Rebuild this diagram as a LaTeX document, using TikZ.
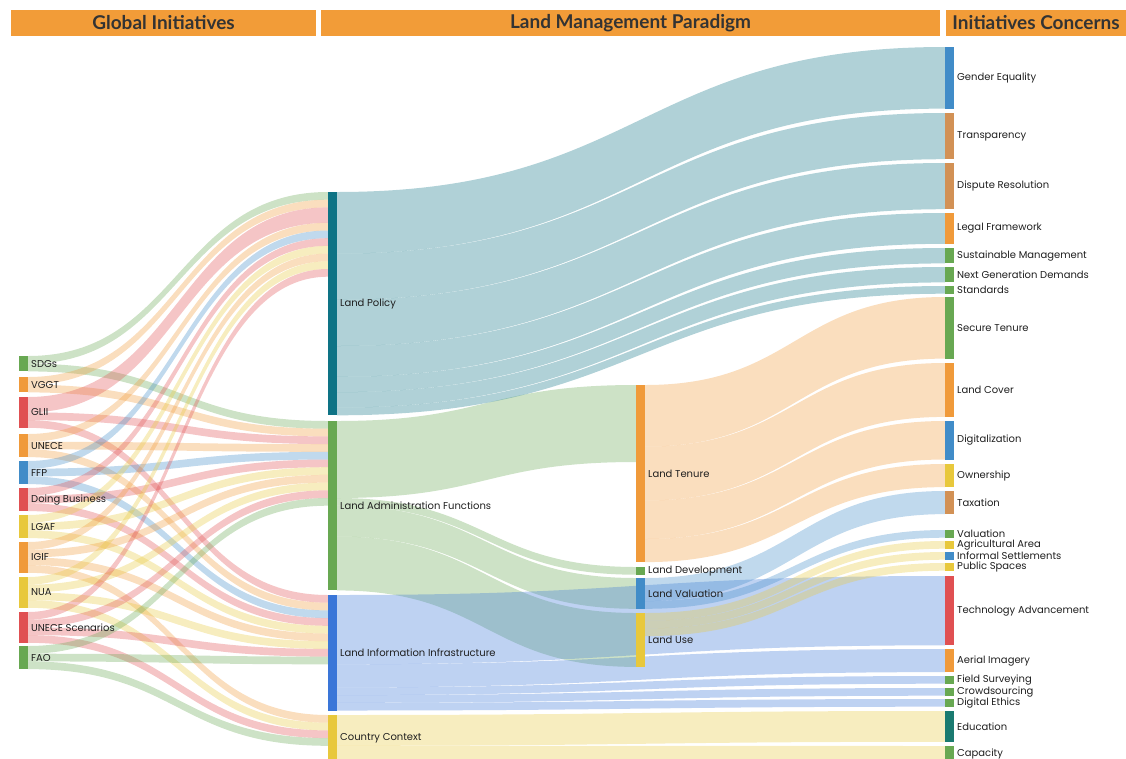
\documentclass[tikz,border=0pt]{standalone}
\usepackage{fontspec}
\setmainfont{Poppins}
\newfontfamily\headfont{Lato}
\usetikzlibrary{positioning,calc,backgrounds}

\definecolor{cgreen}{RGB}{104,168,82}
\definecolor{corange}{RGB}{240,154,58}
\definecolor{cred}{RGB}{224,80,82}
\definecolor{cblue}{RGB}{65,140,200}
\definecolor{cyellow}{RGB}{232,200,60}
\definecolor{cteal}{RGB}{14,115,133}
\definecolor{cinfra}{RGB}{58,118,216}
\definecolor{ctan}{RGB}{210,145,85}
\definecolor{cedu}{RGB}{26,122,112}
\definecolor{chead}{RGB}{242,156,56}

% one unit of flow, in pt
\def\un{7.7}

% source, offset at source, target, offset at target, size, colour
\newcommand{\flow}[6]{%
  \coordinate (p0) at ([yshift={-(#2)*\un pt}]#1.north east);
  \coordinate (q0) at ([yshift={-(#4)*\un pt}]#3.north west);
  \coordinate (p1) at ([yshift={-(#5)*\un pt}]p0);
  \coordinate (q1) at ([yshift={-(#5)*\un pt}]q0);
  \coordinate (m) at ($(p0)!0.5!(q0)$);
  \fill[#6, fill opacity=.33] (p0) .. controls (m |- p0) and (m |- q0) .. (q0)
    -- (q1) .. controls (m |- q1) and (m |- p1) .. (p1) -- cycle;
}

\tikzset{
  nbar/.style={rectangle, inner sep=0pt, outer sep=0pt, minimum width=9pt, anchor=north west},
  nlbl/.style={inner sep=0pt, font=\fontsize{10}{11}\selectfont, text=black!88},
  hbox/.style={fill=chead, minimum height=26pt, inner sep=0pt, text=black!80,
    font=\headfont\bfseries\fontsize{19}{20}\selectfont}
}

\begin{document}
\begin{tikzpicture}[x=1pt,y=-1pt]
\useasboundingbox (0,0) rectangle (1126,758);

% headers
\node[hbox, minimum width=305pt] (hgi) at (163.5,23) {Global Initiatives};
\node[hbox, minimum width=619pt] (hlmp) at (630.5,23) {Land Management Paradigm};
\node[hbox, minimum width=180pt] (hic) at (1036,23) {Initiatives Concerns};

% global initiatives
\foreach \nm/\py/\h/\c/\txt in {sdg/356/2/cgreen/SDGs, vggt/377/2/corange/VGGT,
    glii/397/4/cred/GLII, unece/434/3/corange/UNECE, ffp/461/3/cblue/FFP,
    db/488/3/cred/Doing Business, lgaf/515/3/cyellow/LGAF, igif/542/4/corange/IGIF,
    nua/577/4/cyellow/NUA, uns/612/4/cred/UNECE Scenarios, fao/646/3/cgreen/FAO}{
  \node[nbar, fill=\c, minimum height={\h*\un pt}] (\nm) at (19,\py) {};
  \node[nlbl, right=3pt of \nm] (\nm-t) {\txt};
}

% paradigm
\foreach \nm/\py/\h/\c/\txt in {lp/192/29/cteal/Land Policy,
    laf/421/22/cgreen/Land Administration Functions,
    lii/595/15/cinfra/Land Information Infrastructure, cc/715/6/cyellow/Country Context}{
  \node[nbar, fill=\c, minimum height={\h*\un pt}] (\nm) at (328,\py) {};
  \node[nlbl, right=3pt of \nm] (\nm-t) {\txt};
}
\foreach \nm/\py/\h/\c/\txt in {lt/385/23/corange/Land Tenure, ld/567/1/cgreen/Land Development,
    lv/578/4/cblue/Land Valuation, lu/613/7/cyellow/Land Use}{
  \node[nbar, fill=\c, minimum height={\h*\un pt}] (\nm) at (636,\py) {};
  \node[nlbl, right=3pt of \nm] (\nm-t) {\txt};
}

% concerns
\foreach \nm/\py/\h/\c/\txt in {ge/47/8/cblue/Gender Equality, tr/113/6/ctan/Transparency,
    dr/163/6/ctan/Dispute Resolution, lf/213/4/corange/Legal Framework,
    sm/248/2/cgreen/Sustainable Management, ng/267/2/cgreen/Next Generation Demands,
    std/286/1/cgreen/Standards, sten/297/8/cgreen/Secure Tenure, lc/363/7/corange/Land Cover,
    dg/421/5/cblue/Digitalization, ow/464/3/cyellow/Ownership, tx/491/3/ctan/Taxation,
    va/530/1/cgreen/Valuation, aa/541/1/cyellow/Agricultural Area,
    is/552/1/cblue/Informal Settlements, ps/563/1/cyellow/Public Spaces,
    ta/576/9/cred/Technology Advancement, ai/649/3/corange/Aerial Imagery,
    fsv/676/1/cgreen/Field Surveying, cs/688/1/cgreen/Crowdsourcing,
    de/699/1/cgreen/Digital Ethics, ed/711/4/cedu/Education, cp/746/2/cgreen/Capacity}{
  \node[nbar, fill=\c, minimum height={\h*\un pt}] (\nm) at (945,\py) {};
  \node[nlbl, right=3pt of \nm] (\nm-t) {\txt};
}

\begin{scope}[on background layer]
% initiatives to paradigm
\foreach \s/\a/\t/\b/\v/\c in {sdg/0/lp/0/1/cgreen, sdg/1/laf/0/1/cgreen,
    vggt/0/lp/1/1/corange, vggt/1/laf/1/1/corange,
    glii/0/lp/2/2/cred, glii/2/laf/2/1/cred, glii/3/lii/0/1/cred,
    unece/0/lp/4/1/corange, unece/1/laf/3/1/corange, unece/2/lii/1/1/corange,
    ffp/0/lp/5/1/cblue, ffp/1/laf/4/1/cblue, ffp/2/lii/2/1/cblue,
    db/0/lp/6/1/cred, db/1/laf/5/1/cred, db/2/lii/3/1/cred,
    lgaf/0/lp/7/1/cyellow, lgaf/1/laf/6/1/cyellow, lgaf/2/lii/4/1/cyellow,
    igif/0/lp/8/1/corange, igif/1/laf/7/1/corange, igif/2/lii/5/1/corange, igif/3/cc/0/1/corange,
    nua/0/lp/9/1/cyellow, nua/1/laf/8/1/cyellow, nua/2/lii/6/1/cyellow, nua/3/cc/1/1/cyellow,
    uns/0/lp/10/1/cred, uns/1/laf/9/1/cred, uns/2/lii/7/1/cred, uns/3/cc/2/1/cred,
    fao/0/laf/10/1/cgreen, fao/1/lii/8/1/cgreen, fao/2/cc/3/1/cgreen}
  \flow{\s}{\a}{\t}{\b}{\v}{\c};

% functions
\foreach \t/\a/\v in {lt/0/10, ld/10/1, lv/11/4, lu/15/7}
  \flow{laf}{\a}{\t}{0}{\v}{cgreen};

% paradigm to concerns
\foreach \s/\a/\t/\v/\c in {lp/0/ge/8/cteal, lp/8/tr/6/cteal, lp/14/dr/6/cteal,
    lp/20/lf/4/cteal, lp/24/sm/2/cteal, lp/26/ng/2/cteal, lp/28/std/1/cteal,
    lii/0/ta/9/cinfra, lii/9/ai/3/cinfra, lii/12/fsv/1/cinfra, lii/13/cs/1/cinfra,
    lii/14/de/1/cinfra, cc/0/ed/4/cyellow, cc/4/cp/2/cyellow,
    lt/0/sten/8/corange, lt/8/lc/7/corange, lt/15/dg/5/corange, lt/20/ow/3/corange,
    lv/0/tx/3/cblue, lv/3/va/1/cblue, lu/0/aa/1/cyellow, lu/1/is/1/cyellow, lu/2/ps/1/cyellow}
  \flow{\s}{\a}{\t}{0}{\v}{\c};
\end{scope}
\end{tikzpicture}
\end{document}
